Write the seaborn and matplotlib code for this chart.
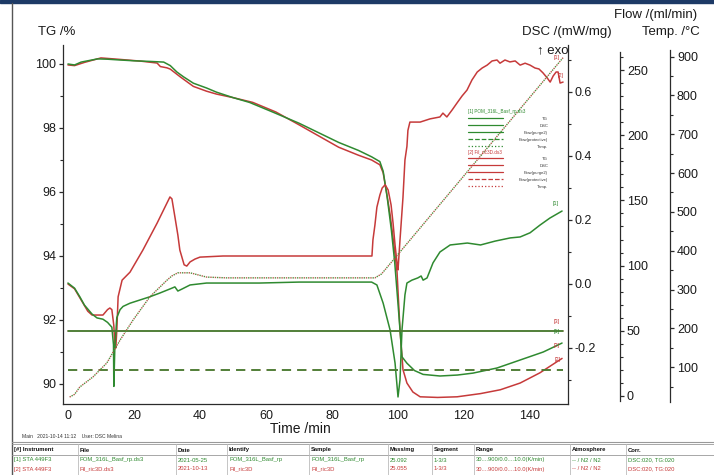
# STA curves (TG / DSC / flow / temperature) for two runs
import matplotlib
matplotlib.use("Agg")
import seaborn as sns
import matplotlib.pyplot as plt
from matplotlib.lines import Line2D
from matplotlib.patches import Rectangle
from matplotlib.ticker import MultipleLocator, FixedLocator

W, H = 714, 475

# ---- values ----
tg1_time = [0, 2, 4, 7, 9, 12, 15, 20, 25, 29, 31, 33, 35, 38, 42, 45, 50, 55, 62, 70, 76, 82, 88,
            92, 94.5, 95.5, 96.7, 98, 99, 100, 100.6, 101.2, 102.7, 105, 107.6, 112.7, 118, 122.7,
            130, 137, 144, 149.7]
tg1_mass = [100.0, 99.97, 100.06, 100.12, 100.16, 100.15, 100.13, 100.1, 100.08, 100.06, 99.95,
            99.75, 99.6, 99.4, 99.25, 99.12, 98.95, 98.8, 98.5, 98.15, 97.85, 97.55, 97.3, 97.1,
            96.95, 96.65, 95.85, 94.8, 93.8, 92.5, 91.7, 90.85, 90.65, 90.42, 90.3, 90.25, 90.28,
            90.34, 90.5, 90.75, 91.0, 91.28]

tg2_time = [0, 2, 5, 10, 15, 22, 27, 28, 30, 31, 34, 38, 42, 45, 50, 56, 63, 70, 76, 82, 88, 92,
            94.5, 95.5, 96.5, 97.6, 98.7, 99.7, 100.6, 101.5, 102.7, 104.5, 106.7, 112, 117.9, 125,
            131, 137, 143, 149.7]
tg2_mass = [99.97, 99.95, 100.05, 100.19, 100.15, 100.09, 100.03, 99.92, 99.88, 99.84, 99.6, 99.3,
            99.15, 99.06, 98.95, 98.8, 98.5, 98.1, 97.75, 97.4, 97.15, 97.0, 96.85, 96.6, 96.0,
            95.3, 94.4, 93.5, 91.7, 90.45, 90.03, 89.75, 89.6, 89.58, 89.6, 89.7, 89.82, 90.03,
            90.35, 90.8]

dsc1_time = [0, 2, 3.6, 5, 7.3, 8.8, 10.6, 12, 13.3, 13.8, 13.9, 14.2, 14.8, 15.8, 16.7, 18.8, 21.8,
             24.8, 27.9, 31.5, 32.4, 33.3, 34.5, 37, 42, 58, 70, 92, 93.6, 95.5, 97.6, 99.1, 100,
             100.6, 101.2, 102.1, 102.7, 104.2, 106, 107, 107.6, 108.8, 110.6, 112.7, 115.8, 121,
             125, 129.4, 134, 137, 140, 143, 146, 149.7]
dsc1_val = [0.003, -0.013, -0.04, -0.066, -0.094, -0.106, -0.11, -0.12, -0.135, -0.19, -0.32, -0.2,
            -0.105, -0.08, -0.07, -0.06, -0.05, -0.04, -0.028, -0.013, -0.009, -0.022, -0.016,
            -0.003, 0.003, 0.003, 0.006, 0.006, -0.003, -0.06, -0.144, -0.247, -0.353, -0.3, -0.144,
            -0.034, 0.003, 0.012, 0.019, 0.025, 0.012, 0.019, 0.066, 0.1, 0.122, 0.128, 0.122, 0.134,
            0.144, 0.147, 0.16, 0.184, 0.206, 0.228]

dsc2_time = [0, 2, 4, 6, 7.3, 9, 10.6, 12, 12.7, 13.3, 13.9, 14.2, 14.5, 14.8, 15.2, 16.4, 18.8,
             22.7, 27, 30.9, 31.5, 32.4, 33.3, 33.9, 35.2, 36, 37, 38.5, 40, 47, 92.1, 92.4, 93, 93.6,
             94.5, 95.2, 96.1, 97, 97.9, 98.5, 99.1, 99.7, 100, 100.6, 101.5, 102.1, 102.7, 103,
             103.6, 106.7, 109.7, 112.7, 113.6, 114.8, 116.4, 117.9, 119.4, 120.9, 122.4, 124, 125.5,
             127, 128.5, 130, 130.9, 132.4, 133.9, 135.5, 137, 138.5, 140, 141.5, 142.7, 143.9,
             145.2, 146.1, 147, 147.9, 148.5, 149.1, 150]
dsc2_val = [0.0, -0.015, -0.05, -0.085, -0.097, -0.097, -0.097, -0.08, -0.075, -0.08, -0.13, -0.19,
            -0.2, -0.145, -0.04, 0.012, 0.037, 0.106, 0.19, 0.272, 0.266, 0.21, 0.153, 0.106, 0.06,
            0.056, 0.069, 0.078, 0.084, 0.0875, 0.0875, 0.1375, 0.184, 0.24, 0.278, 0.3, 0.31,
            0.294, 0.247, 0.19, 0.122, 0.066, 0.044, 0.1375, 0.27, 0.3875, 0.43, 0.48, 0.506, 0.506,
            0.516, 0.522, 0.534, 0.522, 0.544, 0.566, 0.5875, 0.606, 0.6375, 0.6625, 0.675, 0.684,
            0.697, 0.7, 0.69, 0.7, 0.694, 0.697, 0.684, 0.69, 0.684, 0.675, 0.672, 0.66, 0.644,
            0.631, 0.65, 0.6625, 0.6625, 0.628, 0.631]

temp_time = [0.5, 2, 3.6, 7.6, 11.8, 15.8, 19.7, 24.8, 30, 31.5, 33.3, 37, 42, 48, 93, 95, 150]
temp_val = [23, 30, 49, 75, 111, 170, 221, 281, 324, 335, 343, 343, 332, 330, 330, 340, 897]

flow_time = [0, 150]
flow_purge = [50, 50]
flow_protect = [20, 20]

x_ticks = [0, 20, 40, 60, 80, 100, 120, 140]
tg_ticks = [90, 92, 94, 96, 98, 100]
dsc_ticks = [-0.2, 0.0, 0.2, 0.4, 0.6]
flow_ticks = [0, 50, 100, 150, 200, 250]
temp_ticks = [100, 200, 300, 400, 500, 600, 700, 800, 900]

legend_rows = ["TG", "DSC", "Flow(purge2)", "Flow(protective)", "Temp."]
legend_titles = ["[1] POM_316L_Basf_rp.ds3", "[2] Fil_ric3D.ds3"]

table_header = ["[#] Instrument", "File", "Date", "Identify", "Sample", "Mass/mg", "Segment",
                "Range", "Atmosphere", "Corr."]
table_row1 = ["[1] STA 449F3", "POM_316L_Basf_rp.ds3", "2021-05-25", "POM_316L_Basf_rp",
              "POM_316L_Basf_rp", "25.092", "1-3/3", "30....900/0.0....10.0(K/min)",
              "-- / N2 / N2", "DSC:020, TG:020"]
table_row2 = ["[2] STA 449F3", "Fil_ric3D.ds3", "2021-10-13", "Fil_ric3D", "Fil_ric3D", "25.055",
              "1-3/3", "30....900/0.0....10.0(K/min)", "-- / N2 / N2", "DSC:020, TG:020"]
table_cols = [14, 80, 178, 229, 311, 390, 434, 476, 572, 628]

GREEN = "#2f8a30"
RED = "#c63a3a"
DARK = "#2b2b2b"

sns.set_style("white")
plt.rcParams["font.family"] = ["Liberation Sans", "DejaVu Sans"]


def fx(x):
    return x / W


def fy(y):
    return 1 - y / H


def draw(ax, t, v, color, ls="-", lw=1.1, z=2):
    sns.lineplot(x=t, y=v, ax=ax, color=color, linestyle=ls, linewidth=lw,
                 zorder=z, estimator=None, sort=False)


fig = plt.figure(figsize=(W / 100, H / 100), dpi=100)
ax = fig.add_axes([fx(63), fy(404), (568 - 63) / W, (404 - 45) / H])
ax2 = ax.twinx()
ax3 = ax.twinx()
ax4 = ax.twinx()

# TG
draw(ax, tg2_time, tg2_mass, RED)
draw(ax, tg1_time, tg1_mass, GREEN)
# DSC
draw(ax2, dsc2_time, dsc2_val, RED)
draw(ax2, dsc1_time, dsc1_val, GREEN)
# flows (run 2 hidden under run 1)
draw(ax3, flow_time, flow_purge, RED)
draw(ax3, flow_time, flow_protect, RED, ls=(0, (6, 4)))
draw(ax3, flow_time, flow_purge, GREEN)
draw(ax3, flow_time, flow_protect, GREEN, ls=(0, (6, 4)))
# temperature
draw(ax4, temp_time, temp_val, "#b05a48", ls=(0, (1, 2.2)), lw=1.0)
draw(ax4, temp_time, temp_val, "#4f8f3a", ls=(1.6, (1, 2.2)), lw=1.0)

ax.set_xlim(-1.5, 151.5)
ax.set_ylim(100 - (404 - 64) / 32, 100 + (64 - 45) / 32)
ax2.set_ylim((284 - 404) / 320, (284 - 45) / 320)
ax3.set_ylim((396 - 404) / 1.304, (396 - 45) / 1.304)
ax4.set_ylim((406 - 404) / 0.3883, (406 - 45) / 0.3883)

for a in (ax, ax2, ax3, ax4):
    a.set_xlabel("")
    a.set_ylabel("")
    for s in a.spines.values():
        s.set_visible(False)
        s.set_color(DARK)
        s.set_linewidth(0.9)

ax.spines["left"].set_visible(True)
ax.spines["bottom"].set_visible(True)
ax2.spines["right"].set_visible(True)
ax3.spines["right"].set_visible(True)
ax3.spines["right"].set_position(("axes", (620 - 63) / 505))
ax3.spines["right"].set_bounds(-4, 264)
ax4.spines["right"].set_visible(True)
ax4.spines["right"].set_position(("axes", (670 - 63) / 505))
ax4.spines["right"].set_bounds(10, 917)
for a in (ax2, ax3, ax4):
    a.patch.set_visible(False)

ax.xaxis.set_major_locator(FixedLocator(x_ticks))
ax.xaxis.set_minor_locator(MultipleLocator(10))
ax.yaxis.set_major_locator(FixedLocator(tg_ticks))
ax.yaxis.set_minor_locator(FixedLocator([91, 93, 95, 97, 99]))
ax2.yaxis.set_major_locator(FixedLocator(dsc_ticks))
ax2.yaxis.set_minor_locator(FixedLocator([-0.3, -0.1, 0.1, 0.3, 0.5, 0.7]))
ax2.yaxis.set_major_formatter(plt.FuncFormatter(lambda v, p: f"{v:.1f}"))
ax3.yaxis.set_major_locator(FixedLocator(flow_ticks))
ax3.yaxis.set_minor_locator(FixedLocator([v for v in range(10, 261, 10) if v % 50]))
ax4.yaxis.set_major_locator(FixedLocator(temp_ticks))
ax4.yaxis.set_minor_locator(FixedLocator(list(range(50, 901, 100))))

for a in (ax, ax2, ax3, ax4):
    a.tick_params(which="major", direction="out", length=3, width=0.9, color=DARK,
                  labelsize=9, labelcolor="#1a1a1a", pad=2)
    a.tick_params(which="minor", direction="out", length=2, width=0.8, color=DARK)
ax.tick_params(axis="x", which="both", top=False, pad=1)
ax.tick_params(axis="y", which="both", right=False)

# axis titles
fig.text(fx(38), fy(32), "TG /%", fontsize=9.5, va="center", color="#1a1a1a")
fig.text(fx(612), fy(32), "DSC /(mW/mg)", fontsize=9.5, va="center", ha="right", color="#1a1a1a")
fig.text(fx(697), fy(15), "Flow /(ml/min)", fontsize=9.5, va="center", ha="right", color="#1a1a1a")
fig.text(fx(700), fy(32), "Temp. /°C", fontsize=9.5, va="center", ha="right", color="#1a1a1a")
fig.text(fx(553), fy(50), "↑ exo", fontsize=9.5, va="center", ha="center", color="#1a1a1a")
fig.text(fx(300), fy(429), "Time /min", fontsize=10, va="center", ha="center", color="#1a1a1a")

# small in-plot legend
for k, (col, y0) in enumerate([(GREEN, 112), (RED, 152)]):
    fig.text(fx(468), fy(y0), legend_titles[k], fontsize=3.3, color=col, va="center")
    for i, lab in enumerate(legend_rows):
        yy = y0 + 6 + i * 7
        ls = "-" if i < 3 else ("--" if i == 3 else ":")
        fig.add_artist(Line2D([fx(468), fx(503)], [fy(yy), fy(yy)], color=col, lw=0.9,
                              linestyle=ls))
        fig.text(fx(548), fy(yy + 1), lab, fontsize=3.0, color="#333333", ha="right",
                 va="center")

# curve end markers
for txt, x, y, col in [("[1]", 556, 203, GREEN), ("[1]", 557, 57, RED), ("[2]", 561, 76, RED),
                       ("[3]", 557, 322, RED), ("[1]", 557, 332, GREEN), ("[2]", 557, 346, RED),
                       ("[2]", 558, 359, RED)]:
    fig.text(fx(x), fy(y), txt, fontsize=4, color=col, ha="center", va="center")

# screenshot frame
fig.add_artist(Rectangle((0, fy(3)), 1, 3 / H, color="#1d3a66", transform=fig.transFigure))
fig.add_artist(Line2D([fx(12), fx(12)], [fy(3), 0], color="#555555", lw=1.0))

# footer table
fig.text(fx(22), fy(437), "Main   2021-10-14 11:12    User: DSC Melina", fontsize=3.6,
         color="#333333", va="center")
fig.add_artist(Line2D([fx(12), 1], [fy(442), fy(442)], color="#999999", lw=0.8))
fig.add_artist(Line2D([fx(12), 1], [fy(444), fy(444)], color="#999999", lw=0.6))
fig.add_artist(Line2D([fx(12), 1], [fy(455), fy(455)], color="#999999", lw=0.6))
for cx in table_cols[1:]:
    fig.add_artist(Line2D([fx(cx - 2), fx(cx - 2)], [fy(444), 0], color="#bbbbbb", lw=0.6))
for cx, h, r1, r2 in zip(table_cols, table_header, table_row1, table_row2):
    fig.text(fx(cx), fy(450), h, fontsize=4.2, color="#111111", va="center", weight="bold")
    fig.text(fx(cx), fy(460), r1, fontsize=4.2, color=GREEN, va="center")
    fig.text(fx(cx), fy(469), r2, fontsize=4.2, color=RED, va="center")

fig.savefig("out.png", dpi=100)
